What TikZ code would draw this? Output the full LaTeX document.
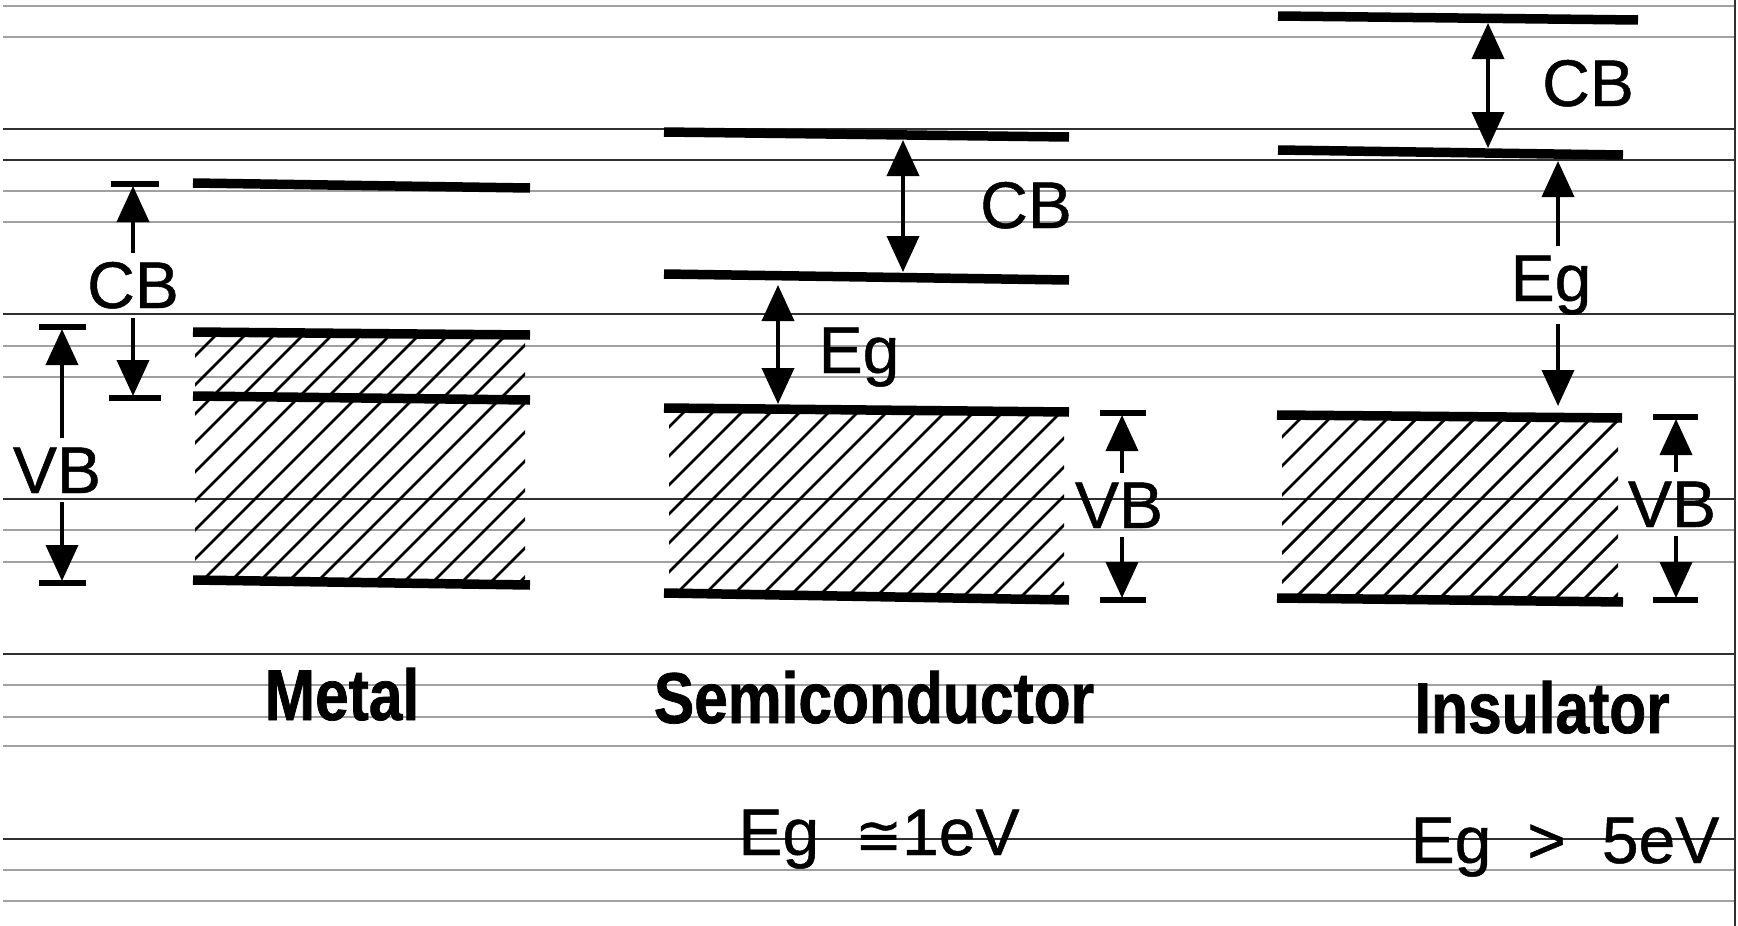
\documentclass[tikz,border=0pt]{standalone}
\usepackage{fontspec}
\setmainfont{Liberation Sans}
\newfontfamily\labfont[FakeBold=0.7]{Liberation Sans}
\newfontfamily\condfont[FakeStretch=0.84,FakeBold=1]{Liberation Sans}
\newfontfamily\symfont[FakeBold=0.7]{DejaVu Sans}
\usetikzlibrary{arrows.meta}
\definecolor{rulegray}{HTML}{A0A0A0}
\definecolor{ruledark}{HTML}{303030}
\tikzset{
  band/.style={line width=9.5pt, line cap=butt},
  hatchline/.style={line width=2.8pt},
  tickline/.style={line width=5.5pt},
  arr/.style={line width=3.8pt, -{Triangle[width=32pt,length=36pt]}},
  dblarr/.style={line width=3.8pt, {Triangle[width=32pt,length=36pt]}-{Triangle[width=32pt,length=36pt]}},
  lbl/.style={font=\labfont\fontsize{66}{70}\selectfont, inner sep=9pt, anchor=base},
  matlbl/.style={font=\condfont\bfseries\fontsize{72}{80}\selectfont, inner sep=0pt, anchor=base},
  notelbl/.style={font=\labfont\fontsize{66}{70}\selectfont, inner sep=0pt, anchor=base},
  lightrule/.style={rulegray, line width=1.6pt},
  darkrule/.style={ruledark, line width=2pt}
}
\begin{document}
\begin{tikzpicture}[x=1pt,y=-1pt]
\useasboundingbox (0,0) rectangle (1738,926);
\fill[white] (0,0) rectangle (1738,926);

% ruled background
\foreach \yy in {6,37,191,222,346,377,530,562,685,717,746,870,901}
  \draw[lightrule] (3,\yy) -- (1735,\yy);
\foreach \yy in {129,160,314,499,654,839}
  \draw[darkrule] (3,\yy) -- (1735,\yy);
\draw[darkrule] (1735,0) -- (1735,926);

% ================= Metal =================
\begin{scope}
  \clip (195,334) rectangle (525,582);
  \foreach \x in {-60,-31,...,540} \draw[hatchline] (\x,582) -- ++(250,-250);
\end{scope}
\coordinate (mTopL) at (193,183); \coordinate (mTopR) at (530,188);
\coordinate (mUpL) at (193,332);  \coordinate (mUpR) at (530,335);
\coordinate (mMidL) at (193,396); \coordinate (mMidR) at (530,400);
\coordinate (mBotL) at (193,580); \coordinate (mBotR) at (530,585);
\draw[band] (mTopL) -- (mTopR);
\draw[band] (mUpL) -- (mUpR);
\draw[band] (mMidL) -- (mMidR);
\draw[band] (mBotL) -- (mBotR);

\coordinate (mCBt1) at (111,184); \coordinate (mCBt2) at (159,184);
\coordinate (mCBb1) at (109,398); \coordinate (mCBb2) at (161,398);
\draw[tickline] (mCBt1) -- (mCBt2);
\draw[tickline] (mCBb1) -- (mCBb2);
\node[lbl] (cbM) at (133,308) {CB};
\coordinate (mCBtip1) at (133,186);
\coordinate (mCBtip2) at (133,396);
\draw[arr] (cbM.north) -- (mCBtip1);
\draw[arr] (cbM.south) -- (mCBtip2);

\coordinate (mVBt1) at (39,327); \coordinate (mVBt2) at (86,327);
\coordinate (mVBb1) at (39,583); \coordinate (mVBb2) at (86,583);
\draw[tickline] (mVBt1) -- (mVBt2);
\draw[tickline] (mVBb1) -- (mVBb2);
\node[lbl] (vbM) at (57,493) {VB};
\coordinate (mVBtip1) at (62,329);
\coordinate (mVBtip2) at (62,581);
\draw[arr] (vbM.north -| mVBtip1) -- (mVBtip1);
\draw[arr] (vbM.south -| mVBtip2) -- (mVBtip2);

\node[matlbl] (metal) at (342,720) {Metal};

% ================= Semiconductor =================
\begin{scope}
  \clip (669,411) rectangle (1064,597);
  \foreach \x in {470,499,...,1080} \draw[hatchline] (\x,597) -- ++(200,-200);
\end{scope}
\coordinate (sCTL) at (664,132); \coordinate (sCTR) at (1069,137);
\coordinate (sCBL) at (664,274); \coordinate (sCBR) at (1069,280);
\coordinate (sVTL) at (664,408); \coordinate (sVTR) at (1069,412);
\coordinate (sVBL) at (664,593); \coordinate (sVBR) at (1069,600);
\draw[band] (sCTL) -- (sCTR);
\draw[band] (sCBL) -- (sCBR);
\draw[band] (sVTL) -- (sVTR);
\draw[band] (sVBL) -- (sVBR);

\coordinate (sCB1) at (903,140); \coordinate (sCB2) at (903,272);
\draw[dblarr] (sCB1) -- (sCB2);
\node[lbl] (cbS) at (1026,228) {CB};

\coordinate (sEg1) at (778,285); \coordinate (sEg2) at (778,404);
\draw[dblarr] (sEg1) -- (sEg2);
\node[lbl] (egS) at (859,373) {Eg};

\coordinate (sVBt1) at (1100,413); \coordinate (sVBt2) at (1146,413);
\coordinate (sVBb1) at (1100,600); \coordinate (sVBb2) at (1146,600);
\draw[tickline] (sVBt1) -- (sVBt2);
\draw[tickline] (sVBb1) -- (sVBb2);
\node[lbl] (vbS) at (1119,528) {VB};
\coordinate (sVBtip1) at (1122,415);
\coordinate (sVBtip2) at (1122,598);
\draw[arr] (vbS.north -| sVBtip1) -- (sVBtip1);
\draw[arr] (vbS.south -| sVBtip2) -- (sVBtip2);

\node[matlbl] (semi) at (874,723) {Semiconductor};
\node[notelbl] (egSemi) at (879,855) {Eg\hspace{36pt}{\symfont\fontsize{56}{60}\selectfont ≅}1eV};

% ================= Insulator =================
\begin{scope}
  \clip (1282,418) rectangle (1618,600);
  \foreach \x in {1090,1119,...,1640} \draw[hatchline] (\x,600) -- ++(200,-200);
\end{scope}
\coordinate (iCTL) at (1278,16);  \coordinate (iCTR) at (1638,20);
\coordinate (iCBL) at (1278,150); \coordinate (iCBR) at (1623,155);
\coordinate (iVTL) at (1277,415); \coordinate (iVTR) at (1622,418);
\coordinate (iVBL) at (1277,598); \coordinate (iVBR) at (1623,602);
\draw[band] (iCTL) -- (iCTR);
\draw[band] (iCBL) -- (iCBR);
\draw[band] (iVTL) -- (iVTR);
\draw[band] (iVBL) -- (iVBR);

\coordinate (iCB1) at (1488,23); \coordinate (iCB2) at (1488,148);
\draw[dblarr] (iCB1) -- (iCB2);
\node[lbl] (cbI) at (1588,106) {CB};

\node[lbl] (egI) at (1551,301) {Eg};
\coordinate (iEgtip1) at (1558,161);
\coordinate (iEgtip2) at (1558,406);
\draw[arr] (egI.north -| iEgtip1) -- (iEgtip1);
\draw[arr] (egI.south -| iEgtip2) -- (iEgtip2);

\coordinate (iVBt1) at (1653,417); \coordinate (iVBt2) at (1698,417);
\coordinate (iVBb1) at (1653,600); \coordinate (iVBb2) at (1698,600);
\draw[tickline] (iVBt1) -- (iVBt2);
\draw[tickline] (iVBb1) -- (iVBb2);
\node[lbl] (vbI) at (1672,527) {VB};
\coordinate (iVBtip1) at (1676,419);
\coordinate (iVBtip2) at (1676,598);
\draw[arr] (vbI.north -| iVBtip1) -- (iVBtip1);
\draw[arr] (vbI.south -| iVBtip2) -- (iVBtip2);

\node[matlbl] (insul) at (1542,733) {Insulator};
\node[notelbl] (egIns) at (1565,863) {Eg\hspace{36pt}>\hspace{36pt}5eV};
\end{tikzpicture}
\end{document}
